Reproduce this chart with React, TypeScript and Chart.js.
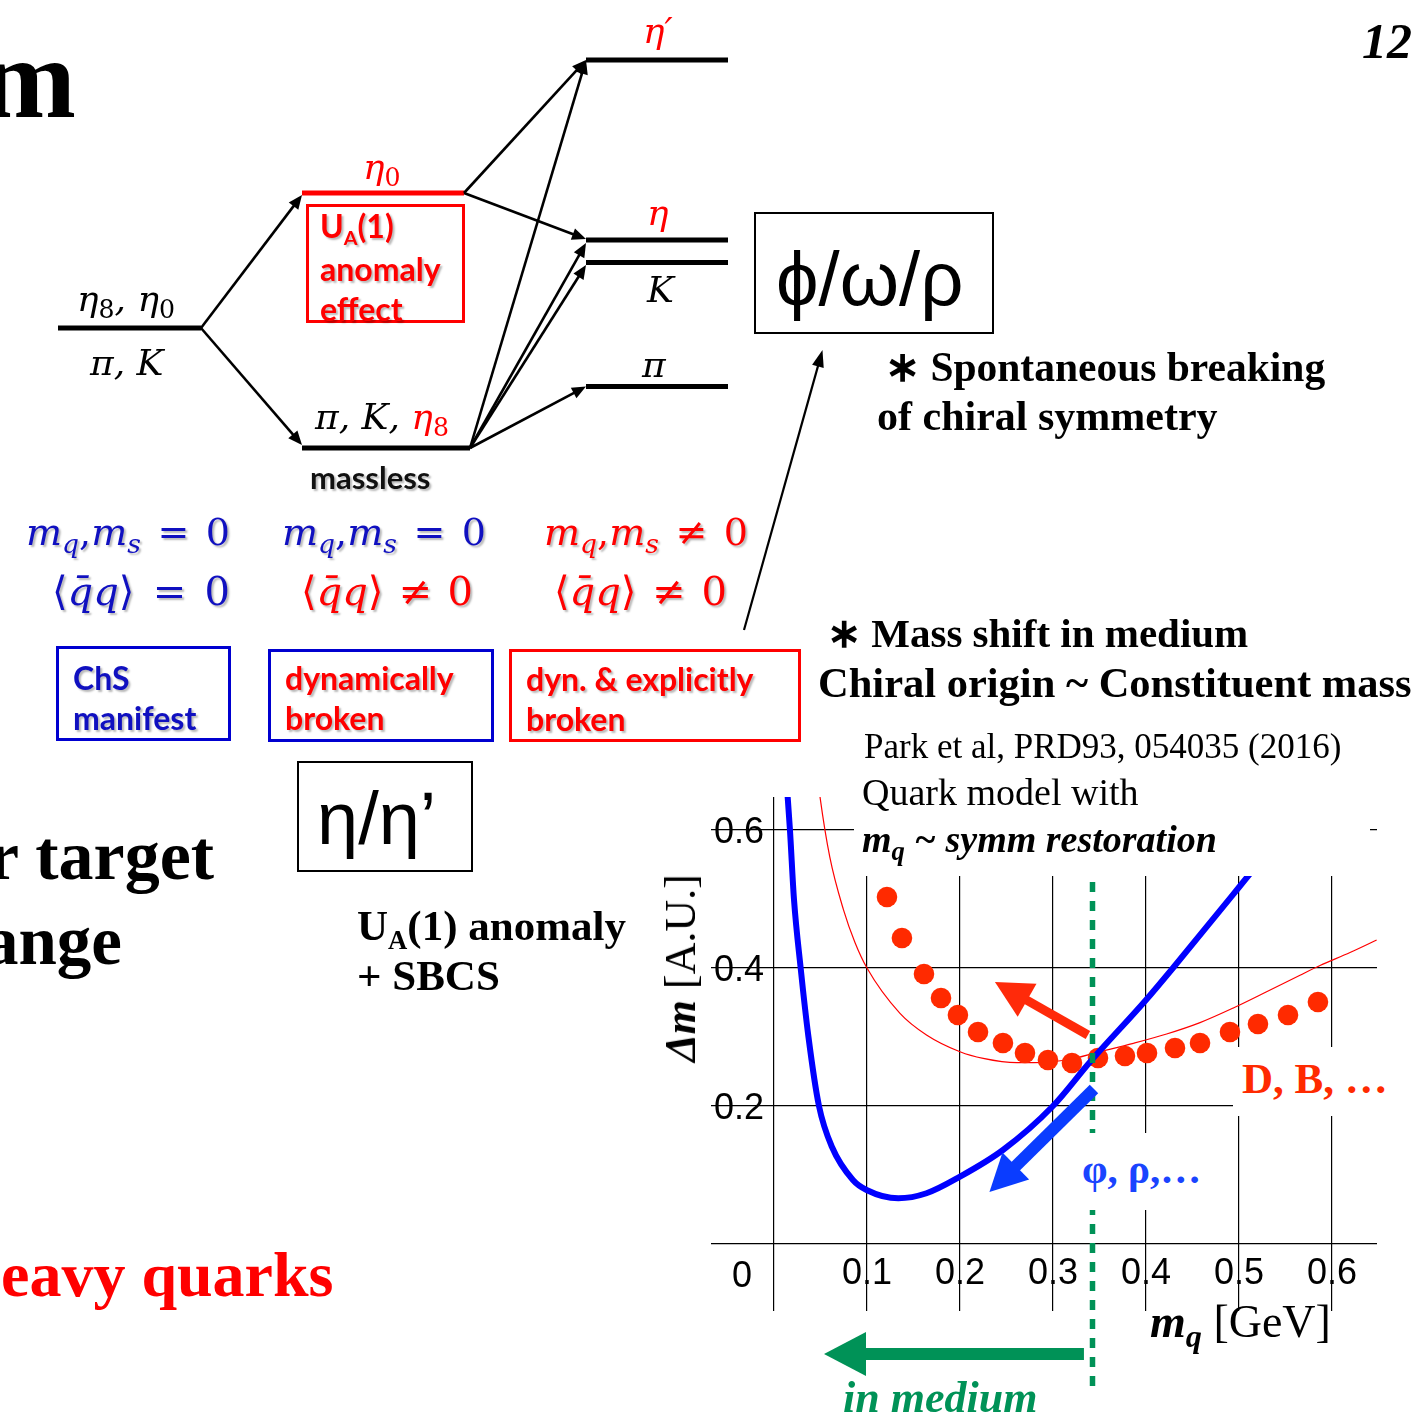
import React, { useEffect, useRef } from "react";
import { Chart, registerables } from "chart.js";

Chart.register(...registerables);

// ================= DATA : mass-shift plot (Park et al) =================
const xTicks = [0, 0.1, 0.2, 0.3, 0.4, 0.5, 0.6];
const yTicks = [0, 0.2, 0.4, 0.6];

// light-vector curve (blue, thick)
const blueMq = [0.012, 0.0172, 0.0215, 0.0287, 0.0371, 0.0484, 0.0624, 0.0849, 0.0996, 0.1337, 0.164, 0.2, 0.2462, 0.3, 0.3398, 0.4, 0.429, 0.5, 0.56];
const blueDm = [0.7, 0.6, 0.5, 0.4, 0.3, 0.2, 0.1406, 0.0928, 0.0783, 0.0662, 0.0735, 0.0976, 0.1362, 0.2, 0.2638, 0.3536, 0.4, 0.517, 0.617];

// heavy-light curve (red, thin)
const redLineMq = [0.0431, 0.0495, 0.06, 0.0746, 0.0871, 0.1, 0.1355, 0.164, 0.2, 0.225, 0.261, 0.2789, 0.3147, 0.3505, 0.3864, 0.4222, 0.4581, 0.4939, 0.5297, 0.5656, 0.5871, 0.6194, 0.648];
const redLineDm = [0.72, 0.648, 0.561, 0.485, 0.437, 0.4, 0.3343, 0.303, 0.2787, 0.269, 0.2628, 0.2628, 0.2667, 0.2787, 0.2908, 0.3043, 0.3208, 0.342, 0.3655, 0.3895, 0.4035, 0.4225, 0.4406];

// D, B dots (red)
const dotMq = [0.1215, 0.1376, 0.1613, 0.1796, 0.1978, 0.2194, 0.2462, 0.2699, 0.2946, 0.3204, 0.3484, 0.3774, 0.4011, 0.4312, 0.4581, 0.4903, 0.5204, 0.5527, 0.5849];
const dotDm = [0.5029, 0.4435, 0.3913, 0.3565, 0.3319, 0.3072, 0.2913, 0.2768, 0.2667, 0.2623, 0.2696, 0.2725, 0.2768, 0.2841, 0.2913, 0.3072, 0.3188, 0.3319, 0.3507];

// vacuum quark mass marker (green dashed) and its vertical extent
const vacuumMq = 0.3425;
const vacuumSpanDm = [0.5246, -0.2145];

// arrows in the plot: D/B shift, phi/rho shift, "in medium"
const plotArrowTailMq = [0.3376, 0.3441, 0.3333];
const plotArrowTailDm = [0.3029, 0.2246, -0.1594];
const plotArrowTipMq = [0.2376, 0.2317, 0.0538];
const plotArrowTipDm = [0.3797, 0.0754, -0.1594];

// ================= DATA : meson level diagram =================
// levels: chiral limit, eta0 (anomaly), massless octet, eta', eta, K, pi
const levelStart = [0.58, 3.02, 3.02, 5.86, 5.86, 5.86, 5.86];
const levelEnd = [2.01, 4.64, 4.7, 7.28, 7.28, 7.28, 7.28];
const levelMass = [1.2, 2.55, 0.0, 3.88, 2.08, 1.855, 0.615];
const levelAnomalous = [false, true, false, false, false, false, false];

const diagArrowFromX = [2.01, 2.01, 4.64, 4.64, 4.7, 4.7, 4.7, 4.7, 7.44];
const diagArrowFromM = [1.2, 1.2, 2.55, 2.55, 0.0, 0.0, 0.0, 0.0, -1.82];
const diagArrowToX = [3.02, 3.02, 5.86, 5.86, 5.86, 5.86, 5.86, 5.86, 8.225];
const diagArrowToM = [2.53, 0.03, 3.88, 2.09, 3.88, 2.05, 1.83, 0.615, 0.98];

// ================= helpers =================
type Arrow = { x0: number; y0: number; x1: number; y1: number; color: string; width: number; head: number; half: number };

function arrowPlugin(id: string, arrows: Arrow[]) {
  return {
    id,
    afterDatasetsDraw(chart: any) {
      const { ctx, scales } = chart;
      const sx = scales.x;
      const sy = scales.y;
      ctx.save();
      for (const a of arrows) {
        const px0 = sx.getPixelForValue(a.x0);
        const py0 = sy.getPixelForValue(a.y0);
        const px1 = sx.getPixelForValue(a.x1);
        const py1 = sy.getPixelForValue(a.y1);
        const ang = Math.atan2(py1 - py0, px1 - px0);
        const c = Math.cos(ang);
        const s = Math.sin(ang);
        const bx = px1 - a.head * c;
        const by = py1 - a.head * s;
        ctx.strokeStyle = a.color;
        ctx.fillStyle = a.color;
        ctx.lineWidth = a.width;
        ctx.lineCap = "butt";
        ctx.beginPath();
        ctx.moveTo(px0, py0);
        ctx.lineTo(bx + c, by + s);
        ctx.stroke();
        ctx.beginPath();
        ctx.moveTo(px1, py1);
        ctx.lineTo(bx + a.half * s, by - a.half * c);
        ctx.lineTo(bx - a.half * s, by + a.half * c);
        ctx.closePath();
        ctx.fill();
      }
      ctx.restore();
    },
  };
}

const pts = (xs: number[], ys: number[]) => xs.map((x, i) => ({ x, y: ys[i] }));

const SERIF = '"Liberation Serif", "Times New Roman", Times, serif';
const SANS = '"Liberation Sans", Arial, Helvetica, sans-serif';
const LATO = 'Lato, "Open Sans", sans-serif';
const MATH = '"DejaVu Serif", "Liberation Serif", serif';
const BASE: Record<string, number> = { [SERIF]: 0.8375, [SANS]: 0.8465, [LATO]: 0.887, [MATH]: 0.846 };
const SHADOW = "2px 2px 2px rgba(0,0,0,0.28)";

const RED = "#ff0000";
const BLUE = "#1010c0";

function T(props: any) {
  const { x, y, size, fam = SERIF, bold, italic, color = "#000", shadow, children, style } = props;
  return (
    <div
      style={{
        position: "absolute",
        left: x,
        top: y - BASE[fam] * size,
        fontFamily: fam,
        fontSize: size,
        fontWeight: bold ? 700 : 400,
        fontStyle: italic ? "italic" : "normal",
        color,
        lineHeight: 1,
        whiteSpace: "nowrap",
        textShadow: shadow ? SHADOW : undefined,
        ...style,
      }}
    >
      {children}
    </div>
  );
}

function Sub(props: any) {
  const { children, italic, scale = 0.7, drop = 0.3 } = props;
  return (
    <span style={{ fontSize: `${scale}em`, position: "relative", top: `${drop}em`, fontStyle: italic ? "italic" : "normal" }}>
      {children}
    </span>
  );
}

function Row(props: any) {
  const { x, y, w, color, parts, size = 38 } = props;
  return (
    <div
      style={{
        position: "absolute",
        left: x,
        top: y - BASE[MATH] * size,
        width: w,
        display: "flex",
        justifyContent: "space-between",
        alignItems: "baseline",
        fontFamily: MATH,
        fontSize: size,
        lineHeight: 1,
        color,
        whiteSpace: "nowrap",
        textShadow: SHADOW,
      }}
    >
      {parts.map((p: any, i: number) => (
        <span key={i}>{p}</span>
      ))}
    </div>
  );
}

function Box(props: any) {
  const { x, y, w, h, color = "#000", bw = 2, bg } = props;
  return (
    <div
      style={{
        position: "absolute",
        left: x,
        top: y,
        width: w,
        height: h,
        boxSizing: "border-box",
        border: bw ? `${bw}px solid ${color}` : "none",
        background: bg,
      }}
    />
  );
}

export default function App() {
  const diagRef = useRef<HTMLCanvasElement>(null);
  const plotRef = useRef<HTMLCanvasElement>(null);

  useEffect(() => {
    // ---------- level diagram ----------
    const diagArrows: Arrow[] = diagArrowFromX.map((x0, i) => ({
      x0,
      y0: diagArrowFromM[i],
      x1: diagArrowToX[i],
      y1: diagArrowToM[i],
      color: "#000",
      width: i === 8 ? 2.2 : 2.6,
      head: i === 8 ? 17 : 14,
      half: 6,
    }));
    const diag = new Chart(diagRef.current as HTMLCanvasElement, {
      type: "scatter",
      data: {
        datasets: levelMass.map((m, i) => ({
          data: [
            { x: levelStart[i], y: m },
            { x: levelEnd[i], y: m },
          ],
          showLine: true,
          borderColor: levelAnomalous[i] ? RED : "#000",
          borderWidth: 5,
          borderCapStyle: "butt",
          pointRadius: 0,
          clip: false,
        })),
      } as any,
      options: {
        responsive: false,
        animation: false,
        events: [],
        layout: { padding: 0 },
        plugins: { legend: { display: false }, tooltip: { enabled: false } },
        scales: {
          x: { type: "linear", display: false, min: 0, max: 8.3 },
          y: { type: "linear", display: false, min: -2.02, max: 4.48 },
        },
      } as any,
      plugins: [arrowPlugin("diagArrows", diagArrows)],
    });

    // ---------- mass-shift plot ----------
    const plotArrows: Arrow[] = plotArrowTailMq.map((x0, i) => ({
      x0,
      y0: plotArrowTailDm[i],
      x1: plotArrowTipMq[i],
      y1: plotArrowTipDm[i],
      color: ["#ff2a0a", "#0a3cff", "#009257"][i],
      width: [9, 12, 12][i],
      head: [37, 37, 42][i],
      half: [19, 19, 22][i],
    }));
    const tickFont = { family: SANS, size: 36 };
    const plot = new Chart(plotRef.current as HTMLCanvasElement, {
      type: "scatter",
      data: {
        datasets: [
          {
            data: [
              { x: vacuumMq, y: vacuumSpanDm[0] },
              { x: vacuumMq, y: vacuumSpanDm[1] },
            ],
            showLine: true,
            borderColor: "#009257",
            borderWidth: 5.5,
            borderDash: [10, 9],
            borderCapStyle: "butt",
            pointRadius: 0,
            clip: false,
          },
          {
            data: pts(blueMq, blueDm),
            showLine: true,
            borderColor: "#0000ff",
            borderWidth: 6,
            cubicInterpolationMode: "monotone",
            pointRadius: 0,
            clip: 0,
          },
          {
            data: pts(dotMq, dotDm),
            showLine: false,
            pointRadius: 10.3,
            pointBackgroundColor: "#ff2a00",
            pointBorderWidth: 0,
            borderWidth: 0,
          },
          {
            data: pts(redLineMq, redLineDm),
            showLine: true,
            borderColor: "#ff0000",
            borderWidth: 1.2,
            cubicInterpolationMode: "monotone",
            pointRadius: 0,
            clip: 0,
          },
        ],
      } as any,
      options: {
        responsive: false,
        animation: false,
        events: [],
        layout: { padding: { left: 705, top: 797, right: 44, bottom: 84 } },
        plugins: { legend: { display: false }, tooltip: { enabled: false } },
        scales: {
          x: {
            type: "linear",
            min: -0.0677,
            max: 0.6484,
            afterBuildTicks: (s: any) => {
              s.ticks = xTicks.map((v) => ({ value: v }));
            },
            ticks: {
              mirror: true,
              padding: 15,
              autoSkip: false,
              maxRotation: 0,
              color: "#000",
              font: tickFont,
              callback: (v: any) => (Number(v) === 0 ? "" : Number(v).toFixed(1)),
            },
            grid: { color: "#000", lineWidth: 1.2, drawTicks: false },
            border: { display: false },
          },
          y: {
            type: "linear",
            min: -0.0971,
            max: 0.6478,
            afterBuildTicks: (s: any) => {
              s.ticks = yTicks.map((v) => ({ value: v }));
            },
            ticks: {
              mirror: true,
              padding: 3,
              labelOffset: 3,
              autoSkip: false,
              color: "#000",
              font: tickFont,
              callback: (v: any) => (Number(v) === 0 ? "" : Number(v).toFixed(1)),
            },
            grid: { color: "#000", lineWidth: 1.2, drawTicks: false },
            border: { display: false },
          },
        },
      } as any,
      plugins: [arrowPlugin("plotArrows", plotArrows)],
    });

    return () => {
      diag.destroy();
      plot.destroy();
    };
  }, []);

  const mq = (
    <>
      <i>m</i>
      <Sub italic>q</Sub>
      <span>,</span>
      <i>m</i>
      <Sub italic>s</Sub>
    </>
  );
  const qq = (
    <>
      <span>⟨</span>
      <i>{"q\u0304q"}</i>
      <span>⟩</span>
    </>
  );

  return (
    <div style={{ position: "absolute", left: 0, top: 0, width: 1421, height: 1425, overflow: "hidden", background: "#fff" }}>
      <canvas ref={diagRef} width={830} height={650} style={{ position: "absolute", left: 0, top: 0, width: 830, height: 650 }} />
      <canvas ref={plotRef} width={1421} height={1425} style={{ position: "absolute", left: 0, top: 0, width: 1421, height: 1425 }} />

      {/* white text panels that sit over the plot grid */}
      <Box x={854} y={774} w={516} h={102} bw={0} bg="#fff" />
      <Box x={1233} y={1047} w={188} h={69} bw={0} bg="#fff" />
      <Box x={1075} y={1133} w={140} h={77} bw={0} bg="#fff" />

      {/* slide title fragments */}
      <T x={-19} y={117} size={114} bold>m</T>
      <T x={1362} y={58} size={50} bold italic>12</T>
      <T x={-12} y={880} size={70} bold>r target</T>
      <T x={-16} y={965} size={69} bold>ange</T>
      <T x={1} y={1297} size={64} bold color={RED}>eavy quarks</T>

      {/* level diagram labels */}
      <T x={643} y={43} size={36} fam={MATH} italic color={RED}>η′</T>
      <T x={647} y={225} size={36} fam={MATH} italic color={RED}>η</T>
      <T x={647} y={302} size={36} fam={MATH} italic>K</T>
      <T x={642} y={377} size={36} fam={MATH} italic>π</T>
      <T x={363} y={179} size={36} fam={MATH} italic color={RED}>
        η<Sub>0</Sub>
      </T>
      <T x={77} y={311} size={36} fam={MATH} italic>
        η<Sub>8</Sub>, η<Sub>0</Sub>
      </T>
      <T x={90} y={375} size={36} fam={MATH} italic>π, K</T>
      <T x={315} y={429} size={36} fam={MATH} italic>
        π, K, <span style={{ color: RED }}>η<Sub>8</Sub></span>
      </T>
      <T x={310} y={489} size={31} fam={LATO} bold color="#111" shadow>massless</T>

      <Box x={306} y={204} w={159} h={119} color={RED} bw={3} />
      <T x={320} y={238} size={32} fam={LATO} bold color={RED} shadow>
        U<Sub scale={0.62} drop={0.35}>A</Sub>(1)
      </T>
      <T x={320} y={281} size={32} fam={LATO} bold color={RED} shadow>anomaly</T>
      <T x={320} y={321} size={32} fam={LATO} bold color={RED} shadow>effect</T>

      {/* condensate rows */}
      <Row x={26} y={545} w={204} color={BLUE} parts={[mq, "=", "0"]} />
      <Row x={282} y={545} w={204} color={BLUE} parts={[mq, "=", "0"]} />
      <Row x={544} y={545} w={204} color={RED} parts={[mq, "≠", "0"]} />
      <Row x={52} y={605} w={178} size={40} color={BLUE} parts={[qq, "=", "0"]} />
      <Row x={301} y={605} w={172} size={40} color={RED} parts={[qq, "≠", "0"]} />
      <Row x={554} y={605} w={173} size={40} color={RED} parts={[qq, "≠", "0"]} />

      {/* symmetry boxes */}
      <Box x={56} y={646} w={175} h={95} color="#0000d0" bw={3} />
      <T x={73} y={690} size={32} fam={LATO} bold color={BLUE} shadow>ChS</T>
      <T x={73} y={730} size={32} fam={LATO} bold color={BLUE} shadow>manifest</T>
      <Box x={268} y={649} w={226} h={93} color="#0000d0" bw={3} />
      <T x={285} y={690} size={32} fam={LATO} bold color={RED} shadow>dynamically</T>
      <T x={285} y={730} size={32} fam={LATO} bold color={RED} shadow>broken</T>
      <Box x={509} y={649} w={292} h={93} color={RED} bw={3} />
      <T x={526} y={691} size={32} fam={LATO} bold color={RED} shadow>dyn. &amp; explicitly</T>
      <T x={526} y={731} size={32} fam={LATO} bold color={RED} shadow>broken</T>

      {/* meson boxes */}
      <Box x={754} y={212} w={240} h={122} color="#000" bw={2} />
      <T x={776} y={305} size={76} fam={SANS}>ϕ/ω/ρ</T>
      <Box x={297} y={761} w={176} h={111} color="#000" bw={2} />
      <T x={317} y={845} size={74} fam={SANS}>η/η’</T>
      <T x={357} y={940} size={43} bold>
        U<Sub scale={0.62} drop={0.35}>A</Sub>(1) anomaly
      </T>
      <T x={357} y={990} size={43} bold>+ SBCS</T>

      {/* right-hand notes */}
      <T x={885} y={382} size={41.5} bold>∗ Spontaneous breaking</T>
      <T x={877} y={430} size={42} bold>of chiral symmetry</T>
      <T x={827} y={647} size={41} bold>∗ Mass shift in medium</T>
      <T x={818} y={698} size={42.5} bold>Chiral origin ~ Constituent mass</T>
      <T x={864} y={758} size={35}>Park et al, PRD93, 054035 (2016)</T>
      <T x={862} y={805} size={38}>Quark model with</T>
      <T x={862} y={852} size={38} bold italic>
        m<Sub italic scale={0.7} drop={0.3}>q</Sub> ~ symm restoration
      </T>

      {/* plot annotations */}
      <div
        style={{
          position: "absolute",
          left: 681,
          top: 968,
          transform: "translate(-50%, -50%) rotate(-90deg)",
          fontFamily: SERIF,
          fontSize: 44,
          lineHeight: 1,
          whiteSpace: "nowrap",
          color: "#000",
        }}
      >
        <b>
          <i>Δm</i>
        </b>{" "}
        [A.U.]
      </div>
      <T x={732} y={1287} size={36} fam={SANS}>0</T>
      <T x={1150} y={1338} size={46}>
        <b>
          <i>m</i>
          <Sub italic scale={0.7} drop={0.3}>q</Sub>
        </b>{" "}
        [GeV]
      </T>
      <T x={1242} y={1093} size={43} bold color="#ff2a00">D, B, …</T>
      <T x={1082} y={1183} size={41} bold color="#1a44ff">φ, ρ,…</T>
      <T x={843} y={1413} size={44} bold italic color="#009257">in medium</T>
    </div>
  );
}
